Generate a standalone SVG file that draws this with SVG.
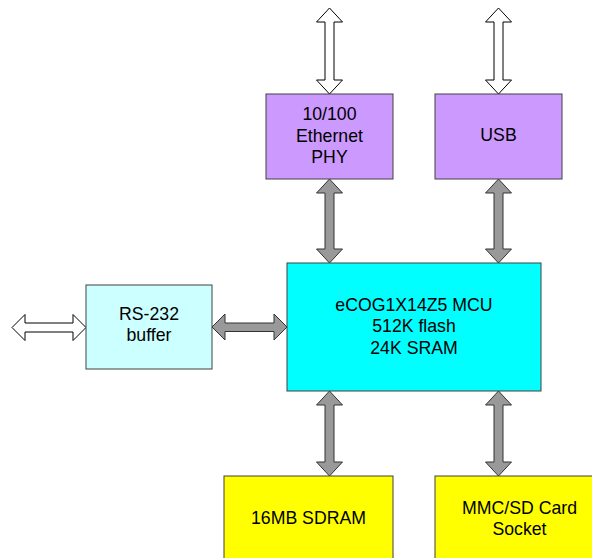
<svg xmlns="http://www.w3.org/2000/svg" width="592" height="558" viewBox="0 0 592 558">
<style>
  .box { stroke: #404040; stroke-width: 1; }
  .purple { fill: #CC99FF; }
  .lcyan { fill: #CCFFFF; }
  .cyan { fill: #00FFFF; }
  .yellow { fill: #FFFF00; }
  .t { font-family: "Liberation Sans", Arial, sans-serif; font-size: 17.7px; fill: #000; text-anchor: middle; }
  .wa { fill: #FFFFFF; stroke: #000; stroke-width: 1; stroke-linejoin: miter; }
  .ga { fill: #999999; stroke: #333333; stroke-width: 1; stroke-linejoin: miter; }
</style>
<rect width="592" height="558" fill="#FFFFFF"/>
<g id="connectors">
  <!-- top external arrows (white) -->
  <path class="wa" d="M329.5,8 L342.5,22 L334,22 L334,80 L342.5,80 L329.5,94 L316.5,80 L325,80 L325,22 L316.5,22 Z"/>
  <path class="wa" d="M498.5,8 L511.5,22 L503,22 L503,80 L511.5,80 L498.5,94 L485.5,80 L494,80 L494,22 L485.5,22 Z"/>
  <!-- PHY/USB to MCU (gray) -->
  <path class="ga" d="M329.5,179 L342.5,193 L334,193 L334,249 L342.5,249 L329.5,263 L316.5,249 L325,249 L325,193 L316.5,193 Z"/>
  <path class="ga" d="M498.5,179 L511.5,193 L503,193 L503,249 L511.5,249 L498.5,263 L485.5,249 L494,249 L494,193 L485.5,193 Z"/>
  <!-- MCU to SDRAM / MMC (gray) -->
  <path class="ga" d="M329.5,391 L342.5,405 L334,405 L334,462 L342.5,462 L329.5,476 L316.5,462 L325,462 L325,405 L316.5,405 Z"/>
  <path class="ga" d="M498.5,391 L511.5,405 L503,405 L503,462 L511.5,462 L498.5,476 L485.5,462 L494,462 L494,405 L485.5,405 Z"/>
  <!-- RS-232 external (white) -->
  <path class="wa" d="M12,327.5 L25,314.5 L25,323 L73,323 L73,314.5 L86,327.5 L73,340.5 L73,332 L25,332 L25,340.5 Z"/>
  <!-- RS-232 to MCU (gray) -->
  <path class="ga" d="M212,327 L225,314 L225,323 L274,323 L274,314 L287,327 L274,340 L274,331.5 L225,331.5 L225,340 Z"/>
</g>
<g id="ethernet">
  <rect class="box purple" x="266" y="94" width="127" height="85"/>
  <text class="t" x="329.5" y="120">10/100</text>
  <text class="t" x="329.5" y="141.5">Ethernet</text>
  <text class="t" x="329.5" y="163">PHY</text>
</g>
<g id="usb">
  <rect class="box purple" x="435" y="94" width="127" height="85"/>
  <text class="t" x="498.5" y="141">USB</text>
</g>
<g id="mcu">
  <rect class="box cyan" x="287" y="263" width="254" height="128"/>
  <text class="t" x="414" y="310.5">eCOG1X14Z5 MCU</text>
  <text class="t" x="414" y="332">512K flash</text>
  <text class="t" x="414" y="353.5">24K SRAM</text>
</g>
<g id="rs232">
  <rect class="box lcyan" x="86" y="285" width="126" height="84"/>
  <text class="t" x="149" y="320">RS-232</text>
  <text class="t" x="149" y="341">buffer</text>
</g>
<g id="sdram">
  <rect class="box yellow" x="224" y="476" width="169" height="100"/>
  <text class="t" x="308.5" y="524">16MB SDRAM</text>
</g>
<g id="mmc">
  <rect class="box yellow" x="435" y="476" width="169" height="100"/>
  <text class="t" x="519.5" y="513.5">MMC/SD Card</text>
  <text class="t" x="519.5" y="534.5">Socket</text>
</g>
</svg>
